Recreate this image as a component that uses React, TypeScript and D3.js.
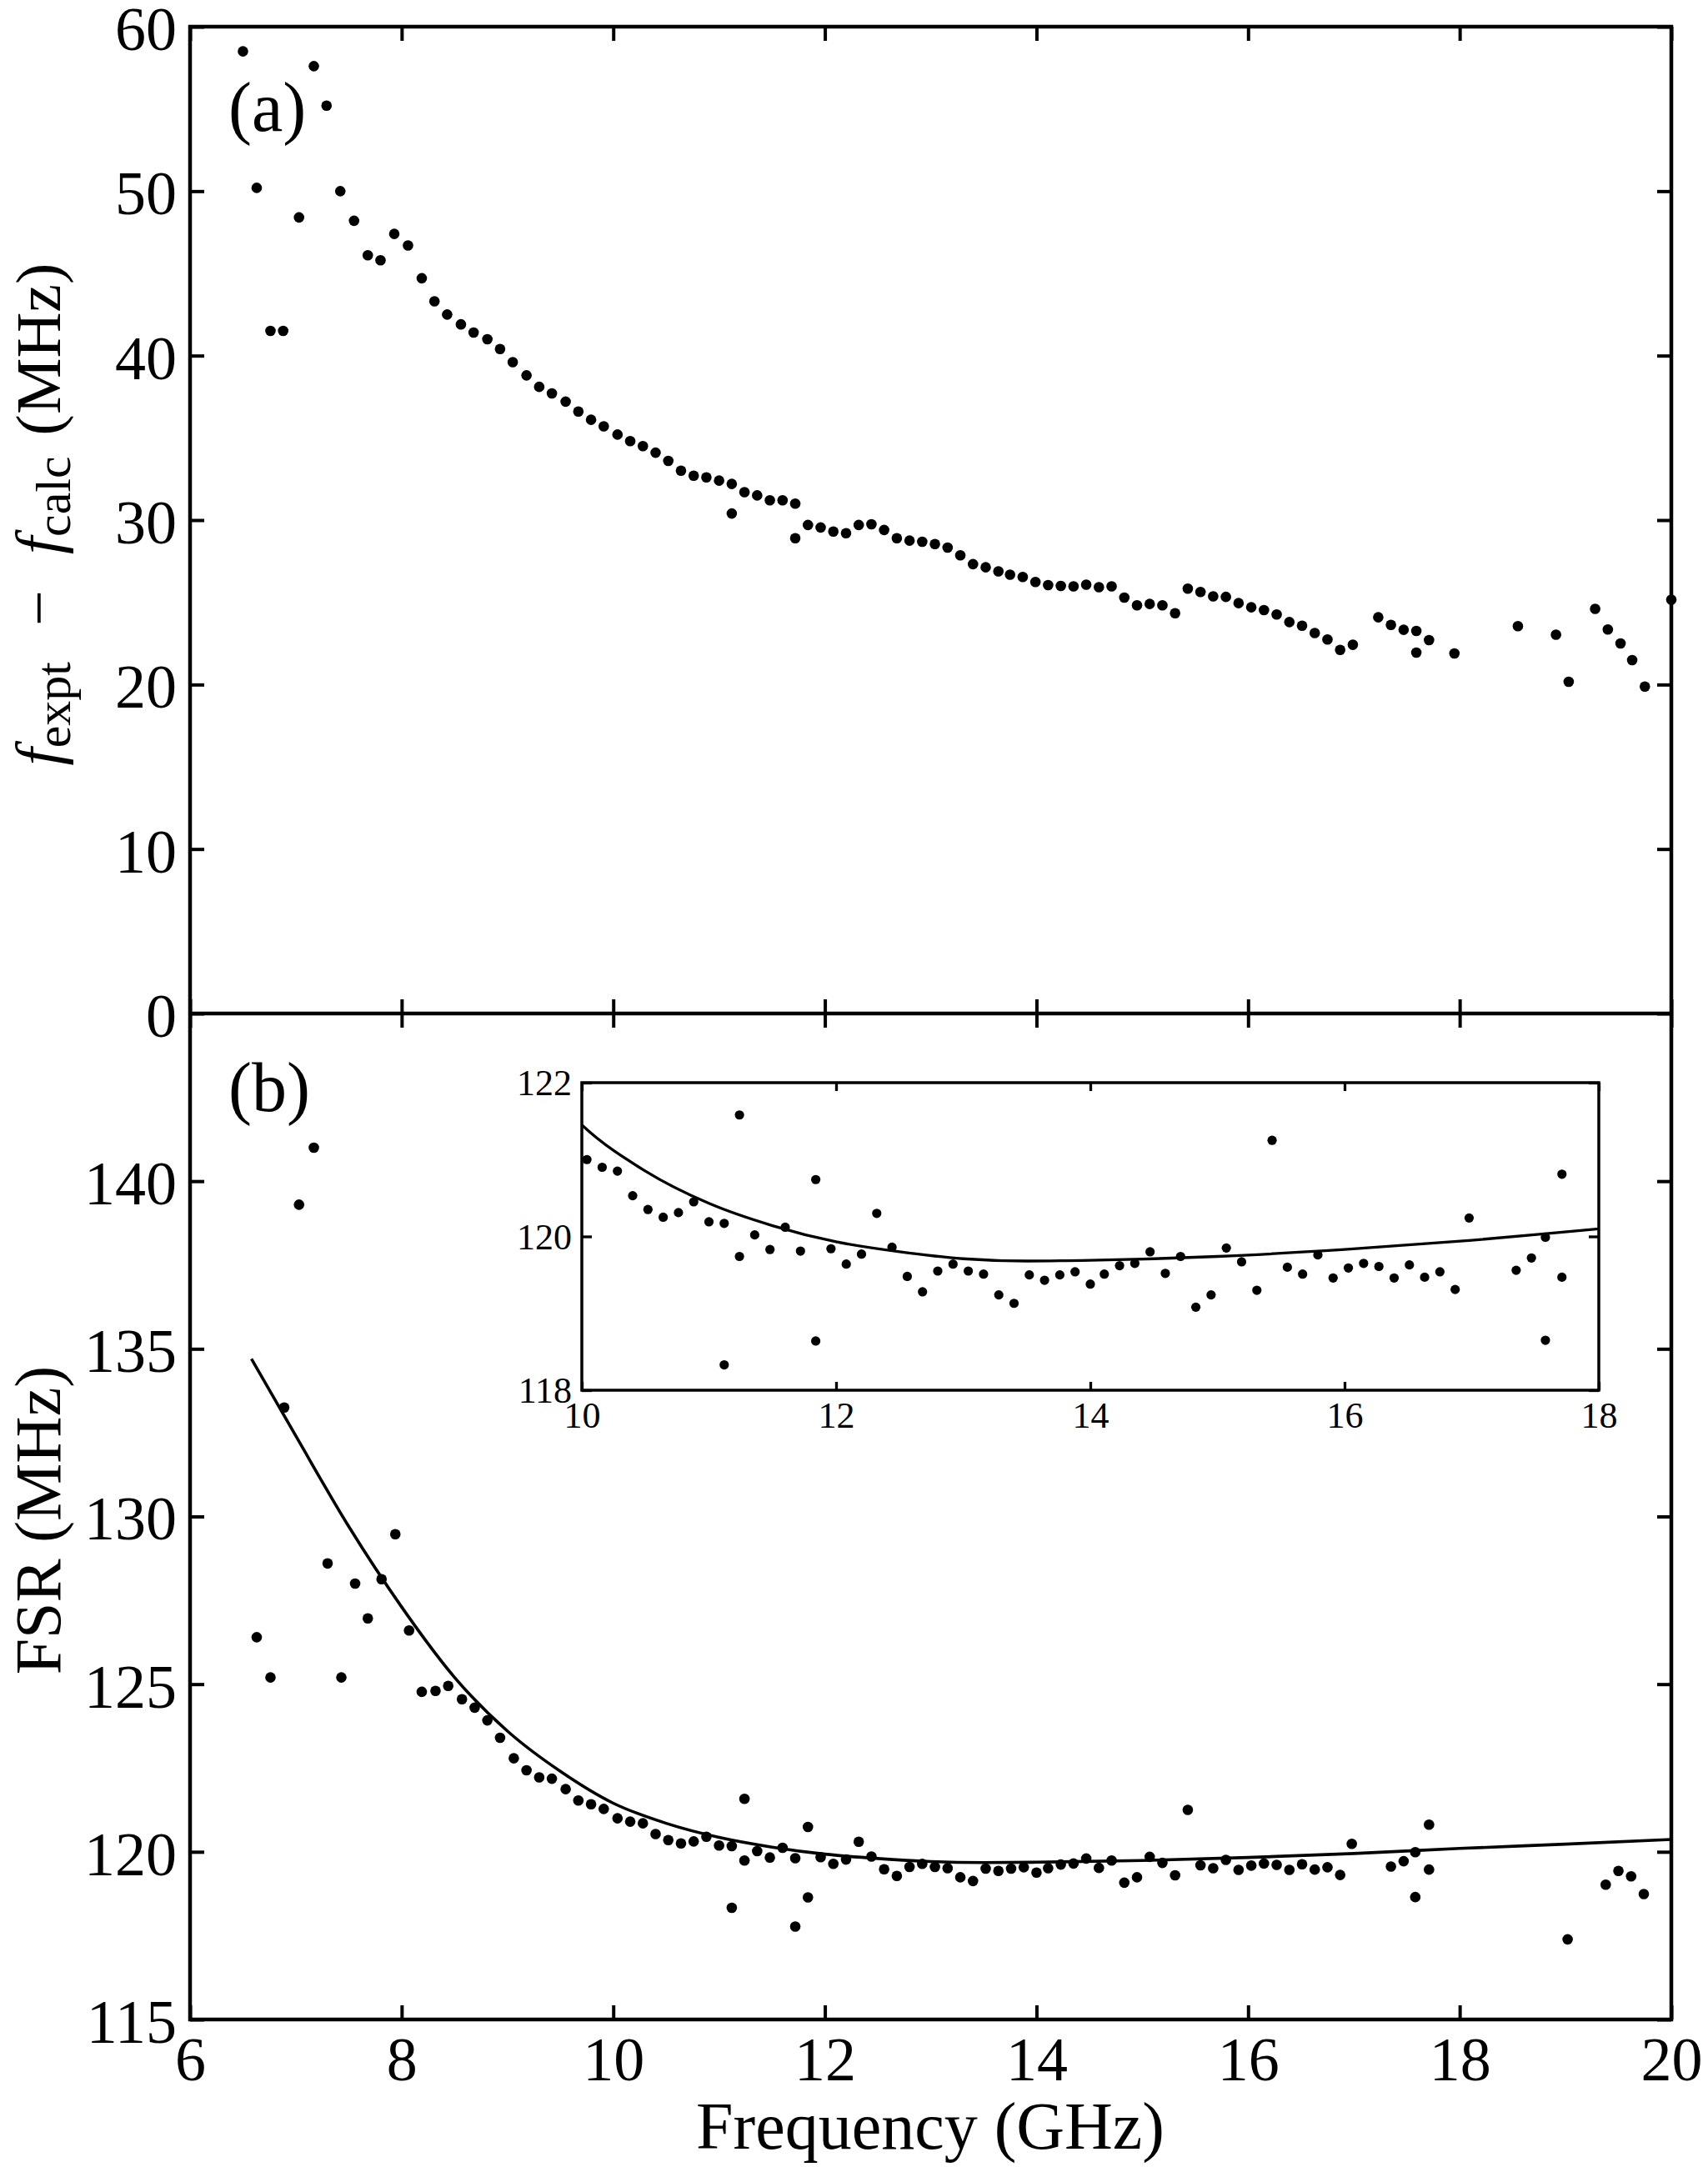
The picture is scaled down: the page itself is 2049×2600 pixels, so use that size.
import React, { useEffect, useRef } from "react";
import * as d3 from "d3";

// panel (a): f_expt - f_calc against frequency
const devFreq = [
  6.5, 6.63, 6.76, 6.88, 7.03, 7.17, 7.29, 7.42, 7.55, 7.68, 7.8, 7.93, 8.06, 8.19, 8.31, 8.43,
  8.56, 8.68, 8.81, 8.93, 9.05, 9.18, 9.3, 9.42, 9.55, 9.67, 9.79, 9.91, 10.04, 10.16, 10.28,
  10.4, 10.52, 10.64, 10.76, 10.88, 11.0, 11.12, 11.12, 11.24, 11.36, 11.48, 11.6, 11.72, 11.72,
  11.84, 11.96, 12.08, 12.2, 12.32, 12.44, 12.56, 12.68, 12.8, 12.92, 13.04, 13.16, 13.28, 13.4,
  13.52, 13.64, 13.75, 13.87, 13.99, 14.11, 14.23, 14.35, 14.47, 14.59, 14.71, 14.83, 14.95,
  15.07, 15.19, 15.31, 15.43, 15.55, 15.67, 15.79, 15.91, 16.03, 16.15, 16.27, 16.39, 16.51,
  16.63, 16.75, 16.87, 16.99, 17.23, 17.35, 17.47, 17.59, 17.59, 17.71, 17.95, 18.55, 18.91,
  19.03, 19.28, 19.4, 19.52, 19.63, 19.75, 20.0,
];
const devMHz = [
  58.5, 50.2, 41.5, 41.5, 48.4, 57.6, 55.2, 50.0, 48.2, 46.1, 45.8, 47.4, 46.7, 44.7, 43.3, 42.5,
  41.9, 41.4, 41.0, 40.4, 39.6, 38.8, 38.1, 37.7, 37.2, 36.6, 36.1, 35.7, 35.2, 34.8, 34.5,
  34.1, 33.6, 33.0, 32.7, 32.6, 32.4, 32.2, 30.4, 31.7, 31.5, 31.2, 31.2, 31.0, 28.9,
  29.7, 29.55, 29.3, 29.2, 29.7, 29.75, 29.4, 28.9, 28.75, 28.68, 28.54, 28.33, 27.86, 27.32,
  27.13, 26.88, 26.68, 26.54, 26.24, 26.05, 26.0, 25.97, 26.07, 25.92, 25.97, 25.29, 24.82,
  24.9, 24.82, 24.34, 25.83, 25.63, 25.36, 25.33, 24.95, 24.7, 24.53, 24.26, 23.8, 23.58,
  23.13, 22.74, 22.11, 22.42, 24.09, 23.63, 23.33, 23.26, 21.94, 22.7, 21.89, 23.55, 23.03,
  20.17, 24.6, 23.35, 22.5, 21.49, 19.88, 25.16,
];

// panel (b): measured free spectral range
const fsrFreq = [
  6.63, 6.76, 6.89, 7.03, 7.17, 7.3, 7.43, 7.56, 7.68, 7.81, 7.94, 8.07, 8.19, 8.32, 8.44, 8.57,
  8.69, 8.81, 8.93, 9.06, 9.18, 9.3, 9.42, 9.55, 9.67, 9.79, 9.91, 10.04, 10.16, 10.28, 10.4,
  10.52, 10.64, 10.76, 10.88, 11.0, 11.12, 11.12, 11.24, 11.24, 11.36, 11.48, 11.6, 11.72, 11.72,
  11.84, 11.84, 11.96, 12.08, 12.2, 12.32, 12.44, 12.56, 12.68, 12.8, 12.92, 13.04, 13.16,
  13.28, 13.4, 13.52, 13.64, 13.76, 13.88, 14.0, 14.11, 14.23, 14.35, 14.47, 14.59, 14.71,
  14.83, 14.95, 15.07, 15.19, 15.31, 15.43, 15.55, 15.67, 15.79, 15.91, 16.03, 16.15, 16.27,
  16.39, 16.51, 16.63, 16.75, 16.87, 16.98, 17.35, 17.47, 17.58, 17.58, 17.71, 17.71, 19.02,
  19.38, 19.5, 19.62, 19.74,
];
const fsrMHz = [
  126.4, 125.2, 133.25, 139.3, 141.0, 128.6, 125.2, 128.0, 126.96, 128.13, 129.47, 126.6, 124.77,
  124.8, 124.95, 124.55, 124.3, 123.92, 123.4, 122.79, 122.43, 122.22, 122.18, 121.87, 121.53,
  121.42, 121.28, 121.0, 120.9, 120.85, 120.53, 120.35, 120.25, 120.31, 120.45, 120.19, 120.17,
  118.33, 121.58, 119.74, 120.02, 119.83, 120.12, 119.81, 117.77, 120.74, 118.64, 119.84,
  119.64, 119.77, 120.3, 119.86, 119.48, 119.28, 119.55, 119.64, 119.55, 119.51, 119.24,
  119.13, 119.5, 119.43, 119.5, 119.54, 119.38, 119.51, 119.62, 119.65, 119.8, 119.52, 119.74,
  119.08, 119.24, 119.85, 119.67, 119.3, 121.25, 119.6, 119.51, 119.76, 119.46, 119.59, 119.65,
  119.61, 119.46, 119.63, 119.47, 119.54, 119.31, 120.24, 119.56, 119.72, 119.99, 118.65,
  120.81, 119.47, 117.39, 119.02, 119.43, 119.27, 118.74,
];

// calculated FSR curve
const fitFreq = [6.58, 7, 7.5, 8, 8.5, 9, 9.5, 10, 10.5, 11, 11.5, 12, 12.5, 13, 13.5, 14, 15, 16, 17, 18, 19, 20];
const fitMHz = [
  134.7, 132.4, 129.7, 127.3, 125.2, 123.6, 122.4, 121.45, 120.85, 120.43, 120.14, 119.93, 119.8,
  119.71, 119.68, 119.69, 119.74, 119.83, 119.95, 120.1, 120.23, 120.37,
];

const freqTicks = [6, 8, 10, 12, 14, 16, 18, 20];
const devTicks = [0, 10, 20, 30, 40, 50, 60];
const fsrTicks = [115, 120, 125, 130, 135, 140];
const insetFreqTicks = [10, 12, 14, 16, 18];
const insetFsrTicks = [118, 120, 122];

const W = 2049;
const H = 2600;
const FONT = "'Liberation Serif', 'Times New Roman', serif";

export default function App() {
  const ref = useRef<SVGSVGElement | null>(null);

  useEffect(() => {
    if (!ref.current) return;
    document.body.style.margin = "0";
    const svg = d3.select(ref.current);
    svg.selectAll("*").remove();

    const x = d3.scaleLinear([6, 20], [228, 2005]);
    const yA = d3.scaleLinear([0, 60], [1216, 32]);
    const yB = d3.scaleLinear([115, 145], [2423, 1216]);
    const xi = d3.scaleLinear([10, 18], [698, 1918]);
    const yi = d3.scaleLinear([118, 122], [1668, 1299]);

    const styleAxis = (g: any, fontSize: number, width: number, dy?: string) => {
      g.select(".domain").remove();
      g.selectAll("line").attr("stroke", "#000").attr("stroke-width", width);
      const t = g.selectAll("text").attr("font-family", FONT).attr("font-size", fontSize).attr("fill", "#000");
      if (dy) t.attr("dy", dy);
    };
    const none = () => "";
    const intFmt = d3.format("d");

    // ---- panel (a)
    const a = svg.append("g");
    a.append("g")
      .attr("transform", "translate(228,0)")
      .call(d3.axisLeft(yA).tickValues(devTicks).tickSize(-17).tickSizeOuter(0).tickPadding(16).tickFormat(intFmt))
      .call(styleAxis, 74, 4, "0.37em");
    a.append("g")
      .attr("transform", "translate(2005,0)")
      .call(d3.axisRight(yA).tickValues(devTicks).tickSize(-17).tickSizeOuter(0).tickFormat(none))
      .call(styleAxis, 74, 4);
    a.append("g")
      .attr("transform", "translate(0,32)")
      .call(d3.axisTop(x).tickValues(freqTicks).tickSize(-17).tickSizeOuter(0).tickFormat(none))
      .call(styleAxis, 74, 4);
    a.append("g")
      .attr("transform", "translate(0,1216)")
      .call(d3.axisBottom(x).tickValues(freqTicks).tickSize(-17).tickSizeOuter(0).tickFormat(none))
      .call(styleAxis, 74, 4);

    a.selectAll("circle.dev")
      .data(devFreq)
      .enter()
      .append("circle")
      .attr("cx", (d) => x(d))
      .attr("cy", (d, i) => yA(devMHz[i]))
      .attr("r", 6.3)
      .attr("fill", "#000");

    // ---- panel (b)
    const b = svg.append("g");
    b.append("g")
      .attr("transform", "translate(228,0)")
      .call(d3.axisLeft(yB).tickValues(fsrTicks).tickSize(-17).tickSizeOuter(0).tickPadding(16).tickFormat(intFmt))
      .call(styleAxis, 74, 4, "0.37em");
    b.append("g")
      .attr("transform", "translate(2005,0)")
      .call(d3.axisRight(yB).tickValues(fsrTicks).tickSize(-17).tickSizeOuter(0).tickFormat(none))
      .call(styleAxis, 74, 4);
    b.append("g")
      .attr("transform", "translate(0,1216)")
      .call(d3.axisTop(x).tickValues(freqTicks).tickSize(-17).tickSizeOuter(0).tickFormat(none))
      .call(styleAxis, 74, 4);
    b.append("g")
      .attr("transform", "translate(0,2423)")
      .call(d3.axisBottom(x).tickValues(freqTicks).tickSize(-17).tickSizeOuter(0).tickPadding(20).tickFormat(intFmt))
      .call(styleAxis, 74, 4);

    const fit = fitFreq.map((f, i) => [f, fitMHz[i]] as [number, number]);
    const lineB = d3
      .line<[number, number]>()
      .x((d) => x(d[0]))
      .y((d) => yB(d[1]))
      .curve(d3.curveMonotoneX);
    b.append("path").attr("d", lineB(fit)).attr("fill", "none").attr("stroke", "#000").attr("stroke-width", 3.6);

    b.selectAll("circle.fsr")
      .data(fsrFreq)
      .enter()
      .append("circle")
      .attr("cx", (d) => x(d))
      .attr("cy", (d, i) => yB(fsrMHz[i]))
      .attr("r", 6.3)
      .attr("fill", "#000");

    // frames
    svg.append("rect").attr("x", 228).attr("y", 32).attr("width", 2005 - 228).attr("height", 2423 - 32)
      .attr("fill", "none").attr("stroke", "#000").attr("stroke-width", 4.5);
    svg.append("line").attr("x1", 228).attr("x2", 2005).attr("y1", 1216).attr("y2", 1216)
      .attr("stroke", "#000").attr("stroke-width", 4.5);

    // ---- inset
    const ins = svg.append("g");
    svg.append("defs").append("clipPath").attr("id", "insclip")
      .append("rect").attr("x", 698).attr("y", 1299).attr("width", 1918 - 698).attr("height", 1668 - 1299);
    ins.append("rect").attr("x", 698).attr("y", 1299).attr("width", 1918 - 698).attr("height", 1668 - 1299)
      .attr("fill", "#fff");
    ins.append("g")
      .attr("transform", "translate(698,0)")
      .call(d3.axisLeft(yi).tickValues(insetFsrTicks).tickSize(-12).tickSizeOuter(0).tickPadding(12).tickFormat(intFmt))
      .call(styleAxis, 44, 3.3, "0.34em");
    ins.append("g")
      .attr("transform", "translate(1918,0)")
      .call(d3.axisRight(yi).tickValues(insetFsrTicks).tickSize(-12).tickSizeOuter(0).tickFormat(none))
      .call(styleAxis, 44, 3.3);
    ins.append("g")
      .attr("transform", "translate(0,1299)")
      .call(d3.axisTop(xi).tickValues(insetFreqTicks).tickSize(-10).tickSizeOuter(0).tickFormat(none))
      .call(styleAxis, 44, 3.3);
    ins.append("g")
      .attr("transform", "translate(0,1668)")
      .call(d3.axisBottom(xi).tickValues(insetFreqTicks).tickSize(-10).tickSizeOuter(0).tickPadding(14).tickFormat(intFmt))
      .call(styleAxis, 44, 3.3);

    const lineI = d3
      .line<[number, number]>()
      .x((d) => xi(d[0]))
      .y((d) => yi(d[1]))
      .curve(d3.curveMonotoneX);
    ins.append("path").attr("d", lineI(fit)).attr("clip-path", "url(#insclip)")
      .attr("fill", "none").attr("stroke", "#000").attr("stroke-width", 3.3);

    const inside = fsrFreq
      .map((f, i) => [f, fsrMHz[i]] as [number, number])
      .filter((d) => d[0] >= 10 && d[0] <= 18 && d[1] >= 118 && d[1] <= 122);
    ins.selectAll("circle.in")
      .data(inside)
      .enter()
      .append("circle")
      .attr("cx", (d) => xi(d[0]))
      .attr("cy", (d) => yi(d[1]))
      .attr("r", 5.6)
      .attr("fill", "#000");

    ins.append("rect").attr("x", 698).attr("y", 1299).attr("width", 1918 - 698).attr("height", 1668 - 1299)
      .attr("fill", "none").attr("stroke", "#000").attr("stroke-width", 3.5);

    // ---- texts
    const txt = svg.append("g").attr("font-family", FONT).attr("fill", "#000");
    txt.append("text").attr("x", 274).attr("y", 157).attr("font-size", 84).text("(a)");
    txt.append("text").attr("x", 274).attr("y", 1333).attr("font-size", 84).text("(b)");
    txt.append("text").attr("x", 1116).attr("y", 2578).attr("font-size", 80)
      .attr("text-anchor", "middle").text("Frequency (GHz)");
    txt.append("text").attr("transform", "translate(72,1824) rotate(-90)").attr("font-size", 78)
      .attr("text-anchor", "middle").text("FSR (MHz)");

    const ya = txt.append("text").attr("transform", "translate(72,617) rotate(-90)")
      .attr("font-size", 76).attr("text-anchor", "middle");
    ya.append("tspan").attr("font-style", "italic").text("f");
    ya.append("tspan").attr("font-size", 60).attr("dy", 12).text("expt");
    ya.append("tspan").attr("dy", -12).attr("dx", 24).text(" \u2212 ");
    ya.append("tspan").attr("dx", 24).attr("font-style", "italic").text("f");
    ya.append("tspan").attr("font-size", 60).attr("dy", 12).text("calc");
    ya.append("tspan").attr("dy", -12).attr("dx", 6).text(" (MHz)");
  }, []);

  return <svg ref={ref} width={W} height={H} style={{ display: "block", background: "#fff" }} />;
}
